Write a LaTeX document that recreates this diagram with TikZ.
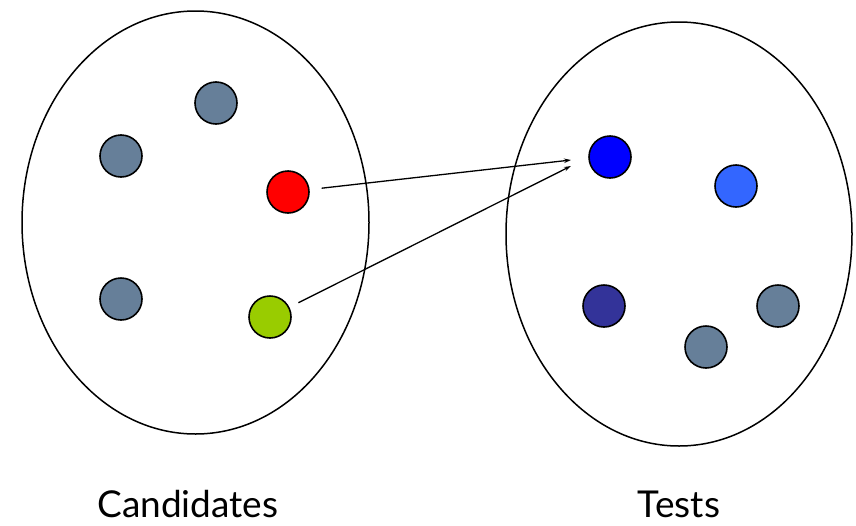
\documentclass[tikz,border=0pt]{standalone}
\usepackage{fontspec}
\setmainfont{Lato}
\usetikzlibrary{positioning, arrows.meta}

\definecolor{dotgray}{RGB}{102,127,153}
\definecolor{dotred}{RGB}{255,0,0}
\definecolor{dotgreen}{RGB}{153,204,0}
\definecolor{dotblue}{RGB}{0,0,255}
\definecolor{dotlightblue}{RGB}{51,102,255}
\definecolor{dotdarkblue}{RGB}{51,51,153}

\tikzset{
    dot/.style={circle, draw=black, line width=1.6pt, minimum size=42pt, inner sep=0pt},
    link/.style={-{Stealth[length=7pt, width=4.5pt]}, line width=1.3pt},
    setlabel/.style={anchor=base, font=\fontsize{37}{44}\selectfont}
}

\begin{document}
\begin{tikzpicture}[x=1pt, y=-1pt]
        \useasboundingbox (0, 0) rectangle (856, 525);

        % 两个集合
        \draw[line width=1.5pt] (195.5, 222.5) ellipse [x radius=173.5, y radius=211.5]; % candidates
        \draw[line width=1.5pt] (679, 234) ellipse [x radius=173, y radius=212]; % tests

        % 左边的点
        \node[dot, fill=dotgray] (c1) at (216, 103) {};
        \node[dot, fill=dotgray] (c2) at (121, 156) {};
        \node[dot, fill=dotred] (cred) at (288, 192) {};
        \node[dot, fill=dotgray] (c3) at (121, 299) {};
        \node[dot, fill=dotgreen] (cgreen) at (270, 317) {};

        % 右边的点
        \node[dot, fill=dotblue] (tblue) at (610, 157) {};
        \node[dot, fill=dotlightblue] (t2) at (736, 186) {};
        \node[dot, fill=dotdarkblue] (t3) at (604, 306) {};
        \node[dot, fill=dotgray] (t4) at (778, 306) {};
        \node[dot, fill=dotgray] (t5) at (706, 347) {};

        % 箭头终点
        \coordinate (tip1) at (571, 160);
        \coordinate (tip2) at (571, 166);

        \draw[link, shorten <=12pt] (cred) -- (tip1);
        \draw[link, shorten <=10pt] (cgreen) -- (tip2);

        % 标签
        \node[setlabel] (lcand) at (188, 517) {Candidates};
        \node[setlabel] (ltest) at (679, 517) {Tests};
    \end{tikzpicture}
\end{document}
